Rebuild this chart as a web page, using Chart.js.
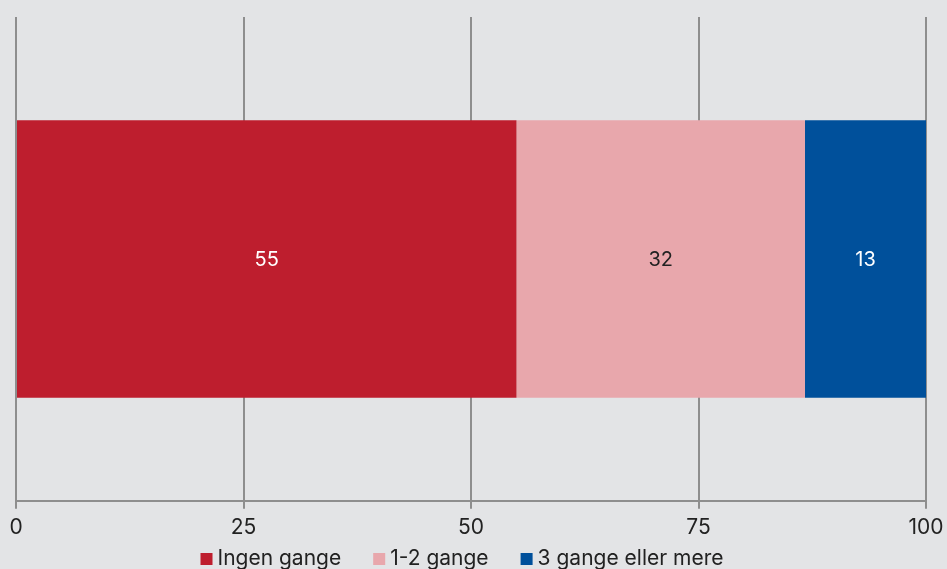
<!DOCTYPE html>
<html>
<head>
<meta charset="utf-8">
<script src="https://cdn.jsdelivr.net/npm/chart.js@4"></script>
<style>
html,body{margin:0;padding:0;background:#e3e4e6;}
#wrap{width:947px;height:569px;}
</style>
</head>
<body>
<div id="wrap"><canvas id="c" width="947" height="569"></canvas></div>
<script>
const categories = [""];
const seriesNames = ["Ingen gange", "1-2 gange", "3 gange eller mere"];
const ingenGange = [55];
const enTilToGange = [31.7];
const treGangeEllerMere = [13.3];
const tickValues = [0, 25, 50, 75, 100];
const colors = ["#be1e2e", "#e8a7ac", "#00509b"];
const labelColors = ["#ffffff", "#222222", "#ffffff"];

const FONT = "Inter";

const bgPlugin = {
  id: 'bg',
  beforeDraw(chart) {
    const ctx = chart.ctx;
    ctx.save();
    ctx.fillStyle = '#e3e4e6';
    ctx.fillRect(0, 0, chart.width, chart.height);
    ctx.restore();
  }
};

const labelPlugin = {
  id: 'vlabels',
  afterDatasetsDraw(chart) {
    const ctx = chart.ctx;
    ctx.save();
    ctx.font = '20px ' + FONT;
    ctx.textAlign = 'center';
    ctx.textBaseline = 'middle';
    chart.data.datasets.forEach((ds, i) => {
      const meta = chart.getDatasetMeta(i);
      meta.data.forEach((bar, j) => {
        const v = ds.data[j];
        const p = bar.getProps(['x', 'y', 'base'], true);
        ctx.fillStyle = labelColors[i];
        ctx.fillText(String(Math.round(v)), (p.x + p.base) / 2, p.y + 1);
      });
    });
    ctx.restore();
  }
};

// custom legend drawn below the axis
const legendPlugin = {
  id: 'customLegend',
  afterDraw(chart) {
    const ctx = chart.ctx;
    ctx.save();
    ctx.font = '21px ' + FONT;
    ctx.textBaseline = 'middle';
    ctx.textAlign = 'left';
    const box = 12, gapBoxText = 5, gapItems = 32;
    const items = chart.data.datasets.map(ds => ({ text: ds.label, color: ds.backgroundColor, w: ctx.measureText(ds.label).width }));
    let total = 0;
    items.forEach((it, i) => { total += box + gapBoxText + it.w + (i < items.length - 1 ? gapItems : 0); });
    let x = 462 - total / 2;
    const cy = 559;
    items.forEach(it => {
      ctx.fillStyle = it.color;
      ctx.fillRect(x, cy - box / 2, box, box);
      ctx.fillStyle = '#222222';
      ctx.fillText(it.text, x + box + gapBoxText, cy);
      x += box + gapBoxText + it.w + gapItems;
    });
    ctx.restore();
  }
};

new Chart(document.getElementById('c'), {
  type: 'bar',
  data: {
    labels: categories,
    datasets: [
      { label: seriesNames[0], data: ingenGange, backgroundColor: colors[0] },
      { label: seriesNames[1], data: enTilToGange, backgroundColor: colors[1] },
      { label: seriesNames[2], data: treGangeEllerMere, backgroundColor: colors[2] }
    ]
  },
  options: {
    indexAxis: 'y',
    responsive: false,
    animation: false,
    devicePixelRatio: 1,
    layout: { padding: { left: 16, right: 21, top: 17, bottom: 23 } },
    datasets: { bar: { categoryPercentage: 1, barPercentage: 0.5735, borderWidth: 0 } },
    scales: {
      x: {
        stacked: true,
        min: 0, max: 100,
        afterBuildTicks(scale) { scale.ticks = tickValues.map(v => ({ value: v })); },
        afterFit(scale) { scale.paddingLeft = 0; scale.paddingRight = 0; },
        grid: { color: '#8e8e8e', lineWidth: 2, tickLength: 8, drawTicks: true },
        border: { color: '#8e8e8e', width: 2 },
        ticks: { color: '#222222', font: { family: FONT, size: 21 }, padding: 6, maxRotation: 0 }
      },
      y: { stacked: true, display: false }
    },
    plugins: {
      legend: { display: false },
      tooltip: { enabled: false }
    }
  },
  plugins: [bgPlugin, labelPlugin, legendPlugin]
});
</script>
</body>
</html>
